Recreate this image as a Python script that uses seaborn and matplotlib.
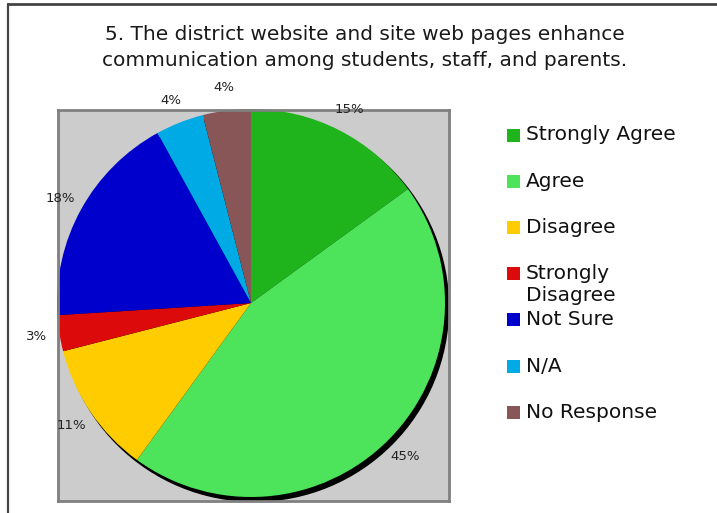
import matplotlib
matplotlib.use('Agg')
import matplotlib.pyplot as plt
from matplotlib.patches import Rectangle, Circle
import seaborn as sns

# Survey answers (percent of responses)
categories = ['Strongly Agree', 'Agree', 'Disagree', 'Strongly\nDisagree',
              'Not Sure', 'N/A', 'No Response']
percents = [15, 45, 11, 3, 18, 4, 4]
colors = ['#20B41C', '#4DE35A', '#FFCC00', '#DC0A0A', '#0000CC', '#00AAE4', '#885656']
title_lines = ['5. The district website and site web pages enhance',
               'communication among students, staff, and parents.']

sns.set_theme(style='white')
plt.rcParams['font.family'] = ['DejaVu Sans']

W, H = 717, 513
fig = plt.figure(figsize=(W / 100, H / 100), dpi=100)
fig.patch.set_facecolor('white')

def fx(px):
    return px / W

def fy(py):
    return 1 - py / H

# outer frame (top and left only, the rest is cut off)
fig.add_artist(plt.Line2D([fx(8), fx(717)], [fy(4), fy(4)], color='#444444', lw=2))
fig.add_artist(plt.Line2D([fx(8), fx(8)], [fy(4), fy(513)], color='#444444', lw=1.6))

# title
for i, line in enumerate(title_lines):
    fig.text(fx(365), fy(35 + 26 * i), line, ha='center', va='center',
             fontsize=14.5, color='#1a1a1a')

# pie area (grey box)
box_l, box_t, box_r, box_b = 58, 110, 449, 501
ax = fig.add_axes([fx(box_l), fy(box_b), fx(box_r - box_l), (box_b - box_t) / H])

palette = sns.color_palette(colors)
cx, cy, r = 251, 303, 194
ax.add_patch(Circle((0.018, -0.022), 1.0, color='black', zorder=0))
wedges, texts, autotexts = ax.pie(percents, colors=palette, startangle=90, counterclock=False,
                                  autopct='%.0f%%', pctdistance=1.12, frame=True,
                                  wedgeprops=dict(linewidth=0),
                                  textprops=dict(fontsize=9.5, color='#222222'))
ax.set_facecolor('#CCCCCC')
for s in ax.spines.values():
    s.set_visible(True)
    s.set_color('#808080')
    s.set_linewidth(2)
ax.set_xticks([])
ax.set_yticks([])
ax.set_xlim(-(cx - box_l) / r, (box_r - cx) / r)
ax.set_ylim(-(box_b - cy) / r, (cy - box_t) / r)
ax.set_aspect('auto')

# legend drawn by hand so the two-line label wraps like the original
leg_y0, leg_step = 135, 46.2
for i, (lab, col) in enumerate(zip(categories, palette)):
    y = leg_y0 + leg_step * i
    fig.add_artist(Rectangle((fx(507), fy(y + 6.5)), fx(13), 13 / H,
                             facecolor=col, edgecolor='none'))
    for j, part in enumerate(lab.split('\n')):
        fig.text(fx(526), fy(y + 22 * j), part, ha='left', va='center',
                 fontsize=14.5, color='#111111')

fig.savefig('out.png', dpi=100)
